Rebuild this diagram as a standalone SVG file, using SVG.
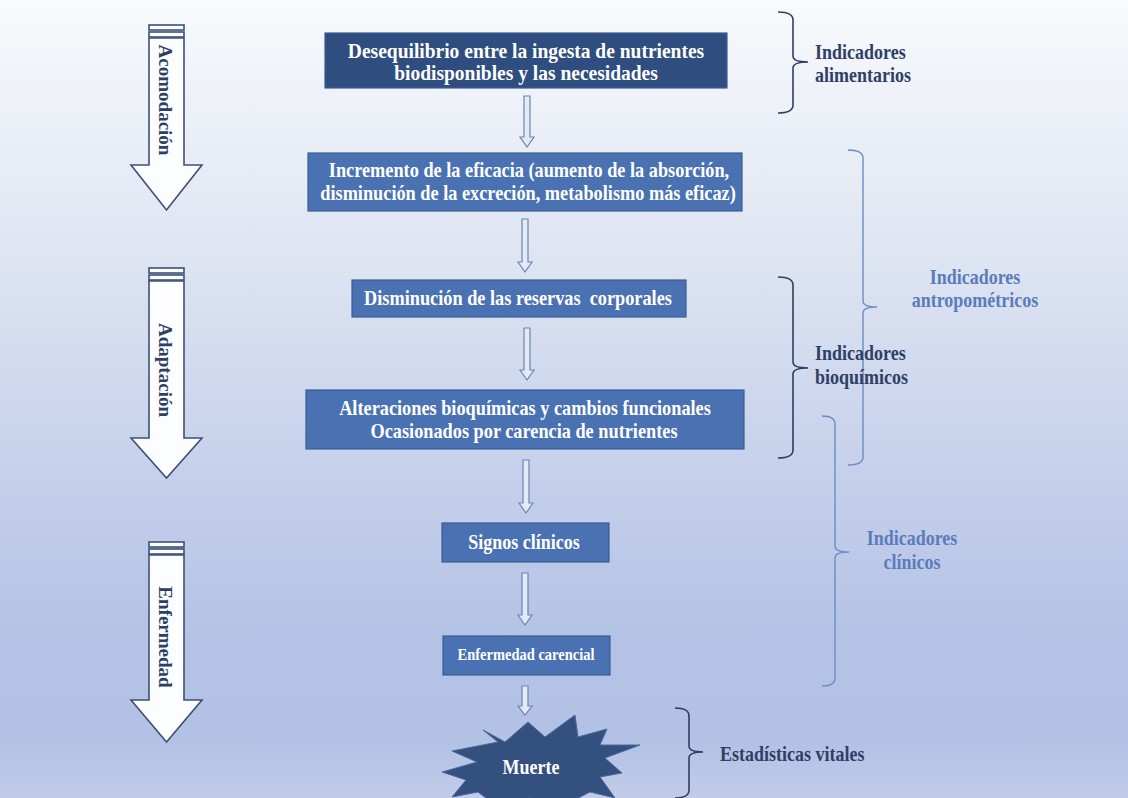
<svg xmlns="http://www.w3.org/2000/svg" width="1128" height="798" viewBox="0 0 1128 798">
  <defs>
    <linearGradient id="bg" x1="0" y1="0" x2="0" y2="1">
      <stop offset="0" stop-color="#f9fafd"/>
      <stop offset="0.1" stop-color="#f0f3f9"/>
      <stop offset="0.3" stop-color="#e0e6f2"/>
      <stop offset="0.55" stop-color="#c9d3ec"/>
      <stop offset="0.8" stop-color="#b4c2e5"/>
      <stop offset="0.93" stop-color="#b3c1e4"/>
      <stop offset="1" stop-color="#c1cce9"/>
    </linearGradient>
    <style>
      .box { stroke: #3b5c95; stroke-width: 1.2; }
      .dark { fill: #2f4d7e; }
      .mid { fill: #4a72b3; }
      .btxt { font-family: "Liberation Serif", "Times New Roman", serif; font-weight: bold; fill: #ffffff; text-anchor: middle; dominant-baseline: central; }
      .flow { fill: #e3e9f5; stroke: #6a86b7; stroke-width: 1.2; }
      .big { fill: #fcfdff; stroke: #3e5078; stroke-width: 1.6; }
      .vtxt { font-family: "Liberation Serif", "Times New Roman", serif; font-weight: bold; font-size: 19px; fill: #2e3f63; text-anchor: middle; dominant-baseline: central; }
      .brd { fill: none; stroke: #2e3f63; stroke-width: 1.6; }
      .brl { fill: none; stroke: #6b8cc6; stroke-width: 1.4; }
      .ltd { font-family: "Liberation Serif", "Times New Roman", serif; font-weight: bold; font-size: 18px; fill: #2e4066; dominant-baseline: central; }
      .ltl { font-family: "Liberation Serif", "Times New Roman", serif; font-weight: bold; font-size: 18px; fill: #5a7cba; text-anchor: middle; dominant-baseline: central; }
    </style>
  </defs>

  <rect width="1128" height="798" fill="url(#bg)"/>

  <!-- stage arrows on the left -->
  <g id="stage-acomodacion">
    <rect class="big" x="149" y="25" width="35" height="5"/>
    <rect class="big" x="149" y="32" width="35" height="5"/>
    <path class="big" d="M149,38 H184 V165 H202 L166.5,210 L131,165 H149 Z"/>
    <text class="vtxt" transform="translate(165,100) rotate(90)">Acomodación</text>
  </g>
  <g id="stage-adaptacion">
    <rect class="big" x="149" y="268" width="35" height="5"/>
    <rect class="big" x="149" y="275" width="35" height="5"/>
    <path class="big" d="M149,281 H184 V438 H202 L166.5,478 L131,438 H149 Z"/>
    <text class="vtxt" transform="translate(165,370) rotate(90)">Adaptación</text>
  </g>
  <g id="stage-enfermedad">
    <rect class="big" x="149" y="542" width="35" height="5"/>
    <rect class="big" x="149" y="549" width="35" height="5"/>
    <path class="big" d="M149,555 H184 V700 H202 L166.5,742 L131,700 H149 Z"/>
    <text class="vtxt" transform="translate(165,637) rotate(90)">Enfermedad</text>
  </g>

  <!-- flow connectors -->
  <g id="connectors">
    <path class="flow" d="M524,96 H530 V137 H534 L527,147 L520,137 H524 Z"/>
    <path class="flow" d="M522,219 H528 V262 H532 L525,272 L518,262 H522 Z"/>
    <path class="flow" d="M524,328 H530 V370 H534 L527,380 L520,370 H524 Z"/>
    <path class="flow" d="M523,460 H529 V503 H533 L526,513 L519,503 H523 Z"/>
    <path class="flow" d="M522,573 H528 V615 H532 L525,625 L518,615 H522 Z"/>
    <path class="flow" d="M522,686 H528 V706 H532 L525,715 L518,706 H522 Z"/>
  </g>

  <!-- process steps (text slightly stretched vertically) -->
  <g id="node-desequilibrio">
    <rect class="box dark" x="325" y="33" width="402" height="55"/>
    <text class="btxt" font-size="19.5" transform="translate(526,51) scale(1,1.12)">Desequilibrio entre la ingesta de nutrientes</text>
    <text class="btxt" font-size="19.5" transform="translate(526,73) scale(1,1.12)">biodisponibles y las necesidades</text>
  </g>
  <g id="node-incremento">
    <rect class="box mid" x="308" y="153" width="434" height="58"/>
    <text class="btxt" font-size="18.3" transform="translate(529,170) scale(1,1.12)">Incremento de la eficacia (aumento de la absorción,</text>
    <text class="btxt" font-size="18.3" transform="translate(528,193) scale(1,1.12)">disminución de la excreción, metabolismo más eficaz)</text>
  </g>
  <g id="node-disminucion">
    <rect class="box mid" x="352" y="280" width="334" height="37"/>
    <text class="btxt" font-size="18.3" transform="translate(518,298) scale(1,1.12)">Disminución de las reservas&#160; corporales</text>
  </g>
  <g id="node-alteraciones">
    <rect class="box mid" x="306" y="390" width="438" height="59"/>
    <text class="btxt" font-size="18.3" transform="translate(525,408) scale(1,1.12)">Alteraciones bioquímicas y cambios funcionales</text>
    <text class="btxt" font-size="18.3" transform="translate(524,431) scale(1,1.12)">Ocasionados por carencia de nutrientes</text>
  </g>
  <g id="node-signos">
    <rect class="box mid" x="442" y="523" width="167" height="39"/>
    <text class="btxt" font-size="18" transform="translate(524,542) scale(1,1.12)">Signos clínicos</text>
  </g>
  <g id="node-enfermedad">
    <rect class="box mid" x="443" y="636" width="167" height="39"/>
    <text class="btxt" font-size="14.5" transform="translate(526,654) scale(1,1.12)">Enfermedad carencial</text>
  </g>
  <g id="node-muerte">
    <polygon fill="#34507f" stroke="#4a6aa0" stroke-width="1" points="483,730 505,742 528,722 545,737 575,715 578,737 607,729 600,745 640,745 605,758 622,773 600,777 615,798 590,792 565,805 530,798 495,805 478,792 452,797 466,780 442,772 477,762 452,751 498,742"/>
    <text class="btxt" font-size="18" transform="translate(531,767) scale(1,1.12)">Muerte</text>
  </g>

  <!-- indicator brackets -->
  <g id="ind-alimentarios">
    <path class="brd" d="M778,12 Q793,12 793,20 V56 Q793,62 808,62 Q793,62 793,68 V105 Q793,113 778,113"/>
    <text class="ltd" transform="translate(815,52) scale(1,1.12)">Indicadores</text>
    <text class="ltd" transform="translate(815,75) scale(1,1.12)">alimentarios</text>
  </g>
  <g id="ind-antropometricos">
    <path class="brl" d="M848,150 Q863,150 863,158 V301 Q863,307 877,307 Q863,307 863,313 V457 Q863,465 848,465"/>
    <text class="ltl" transform="translate(975,277) scale(1,1.12)">Indicadores</text>
    <text class="ltl" transform="translate(975,300) scale(1,1.12)">antropométricos</text>
  </g>
  <g id="ind-bioquimicos">
    <path class="brd" d="M778,277 Q793,277 793,285 V362 Q793,368 808,368 Q793,368 793,374 V450 Q793,458 778,458"/>
    <text class="ltd" transform="translate(815,353) scale(1,1.12)">Indicadores</text>
    <text class="ltd" transform="translate(815,377) scale(1,1.12)">bioquímicos</text>
  </g>
  <g id="ind-clinicos">
    <path class="brl" d="M822,416 Q835,416 835,424 V546 Q835,552 849,552 Q835,552 835,558 V678 Q835,686 822,686"/>
    <text class="ltl" transform="translate(912,538) scale(1,1.12)">Indicadores</text>
    <text class="ltl" transform="translate(912,562) scale(1,1.12)">clínicos</text>
  </g>
  <g id="ind-estadisticas">
    <path class="brd" d="M675,708 Q689,708 689,716 V746 Q689,752 703,752 Q689,752 689,758 V790 Q689,798 675,798"/>
    <text class="ltd" font-size="17.5" transform="translate(720,754) scale(1,1.12)">Estadísticas vitales</text>
  </g>
</svg>
